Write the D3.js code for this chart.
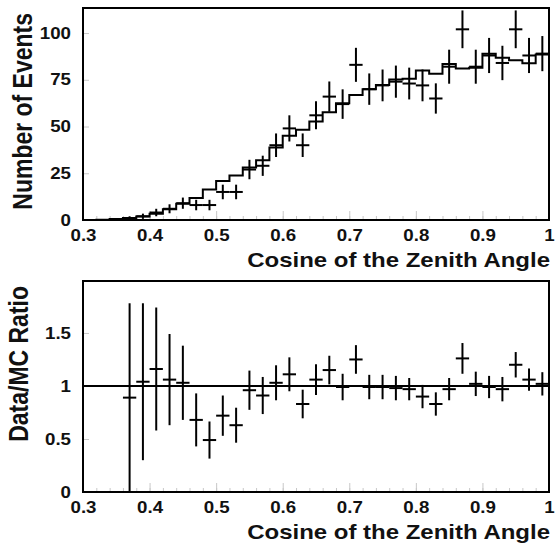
<!DOCTYPE html>
<html>
<head>
<meta charset="utf-8">
<script src="https://cdn.jsdelivr.net/npm/d3@7"></script>
<style>
  body { margin: 0; background: #fff; }
  text { font-family: "Liberation Sans", Arial, sans-serif; font-weight: bold; fill: #111; }
</style>
</head>
<body>
<div id="chart"></div>
<script>
const WIDTH = 558;
const HEIGHT = 546;
const LEFT = 83;
const RIGHT = 549;
const SX = 1.17; // the picture's text is a bit wider than it is tall

// MC histogram, bins of 0.02 from 0.30 to 1.00
const mcCenters = [0.31, 0.33, 0.35, 0.37, 0.39, 0.41, 0.43, 0.45, 0.47, 0.49,
                   0.51, 0.53, 0.55, 0.57, 0.59, 0.61, 0.63, 0.65, 0.67, 0.69,
                   0.71, 0.73, 0.75, 0.77, 0.79, 0.81, 0.83, 0.85, 0.87, 0.89,
                   0.91, 0.93, 0.95, 0.97, 0.99];
const mcCounts = [0.05, 0.2, 0.5, 1.1, 1.9, 3.4, 5.7, 8.7, 11.8, 16.3,
                  20.8, 23.8, 28.1, 31.9, 38.8, 45.0, 48.3, 52.7, 57.6, 62.5,
                  66.8, 70.0, 72.2, 75.2, 75.5, 80.0, 78.2, 83.5, 81.0, 81.5,
                  88.9, 86.8, 85.5, 83.8, 88.5];

// data points
const dataCenters = [0.37, 0.39, 0.41, 0.43, 0.45, 0.47, 0.49, 0.51, 0.53, 0.55,
                     0.57, 0.59, 0.61, 0.63, 0.65, 0.67, 0.69, 0.71, 0.73, 0.75,
                     0.77, 0.79, 0.81, 0.83, 0.85, 0.87, 0.89, 0.91, 0.93, 0.95,
                     0.97, 0.99];
const dataCounts = [1, 2, 4, 6, 9, 8, 8, 15, 15, 27,
                    29, 40, 49, 40, 56, 66, 62, 83, 70, 72,
                    74, 73, 72, 65, 82, 102, 82, 88, 84, 102,
                    88, 89];
const dataErr = [1, 1.4, 2, 2.4, 3, 2.8, 2.8, 3.9, 3.9, 5.2,
                 5.4, 6.3, 7, 6.3, 7.5, 8.1, 7.9, 9.1, 8.4, 8.5,
                 8.6, 8.5, 8.5, 8.1, 9.1, 10.1, 9.1, 9.4, 9.2, 10.1,
                 9.4, 9.4];

// Data/MC ratio
const ratio = [0.89, 1.04, 1.16, 1.06, 1.03, 0.68, 0.49, 0.72, 0.63, 0.96,
               0.91, 1.03, 1.11, 0.83, 1.06, 1.15, 0.99, 1.25, 0.99, 0.99,
               0.98, 0.97, 0.90, 0.83, 0.97, 1.26, 1.02, 0.99, 0.97, 1.20,
               1.06, 1.02];
const ratioErr = [0.89, 0.74, 0.58, 0.43, 0.35, 0.25, 0.175, 0.19, 0.165, 0.185,
                  0.175, 0.165, 0.16, 0.135, 0.145, 0.135, 0.125, 0.135, 0.115, 0.115,
                  0.115, 0.105, 0.11, 0.11, 0.105, 0.145, 0.115, 0.105, 0.115, 0.12,
                  0.105, 0.11];

const xTicks = [0.3, 0.4, 0.5, 0.6, 0.7, 0.8, 0.9, 1.0];
const xMinor = d3.range(0.30, 1.001, 0.02);
const yTicksTop = [0, 25, 50, 75, 100];
const yTicksRatio = [0, 0.5, 1, 1.5];
const xTitle = 'Cosine of the Zenith Angle';

document.addEventListener('DOMContentLoaded', function() {
  const svg = d3.select('#chart')
                .append('svg')
                .attr('width', WIDTH)
                .attr('height', HEIGHT);

  const xScale = d3.scaleLinear().domain([0.3, 1.0]).range([LEFT, RIGHT]);

  // upper panel: events
  const yTop = d3.scaleLinear().domain([0, 113.4]).range([220, 8]);
  const top = svg.append('g');
  drawFrame(top, xScale, yTop, yTicksTop, d3.format('d'), 'Number of Events', 32, 220, 8);

  const steps = mcCenters.map((c, i) => [c - 0.01, mcCounts[i]]);
  steps.push([1.0, mcCounts[mcCounts.length - 1]]);
  top.append('path')
     .datum(steps)
     .attr('fill', 'none')
     .attr('stroke', '#000')
     .attr('stroke-width', 2)
     .attr('d', d3.line().x(d => xScale(d[0])).y(d => yTop(d[1])).curve(d3.curveStepAfter));

  drawCrosses(top, xScale, yTop, dataCounts, dataErr, 0);

  // lower panel: ratio
  const yRatio = d3.scaleLinear().domain([0, 1.99]).range([492, 281]);
  const bot = svg.append('g');
  drawFrame(bot, xScale, yRatio, yTicksRatio, d => d === 0 || d === 1 ? String(d) : d3.format('.1f')(d),
            'Data/MC Ratio', 28, 492, 281);

  bot.append('line')
     .attr('x1', LEFT).attr('x2', RIGHT)
     .attr('y1', yRatio(1)).attr('y2', yRatio(1))
     .attr('stroke', '#000')
     .attr('stroke-width', 2);

  drawCrosses(bot, xScale, yRatio, ratio, ratioErr, 0);
});

function drawCrosses(g, x, y, vals, errs, floor) {
  const cross = g.selectAll('g.cross')
                 .data(dataCenters.map((c, i) => ({c: c, v: vals[i], e: errs[i]})))
                 .enter()
                 .append('g')
                 .attr('class', 'cross');
  cross.append('line')
       .attr('x1', d => x(d.c)).attr('x2', d => x(d.c))
       .attr('y1', d => y(Math.max(floor, d.v - d.e)))
       .attr('y2', d => y(d.v + d.e))
       .attr('stroke', '#000').attr('stroke-width', 2);
  cross.append('line')
       .attr('x1', d => x(d.c - 0.01)).attr('x2', d => x(d.c + 0.01))
       .attr('y1', d => y(d.v)).attr('y2', d => y(d.v))
       .attr('stroke', '#000').attr('stroke-width', 2);
}

function drawFrame(g, x, y, yTicks, yFmt, yTitle, titleX, bottom, topY) {
  // faint inner ticks
  g.append('g')
   .attr('transform', 'translate(0,' + bottom + ')')
   .call(d3.axisBottom(x).tickValues(xMinor).tickSize(-4).tickFormat(''))
   .call(a => a.select('.domain').remove())
   .call(a => a.selectAll('line').attr('stroke', '#c8c8c8'));
  g.append('g')
   .attr('transform', 'translate(0,' + bottom + ')')
   .call(d3.axisBottom(x).tickValues(xTicks).tickSize(-9).tickPadding(10)
           .tickFormat(d => d === 1 ? '1' : d3.format('.1f')(d)))
   .call(a => a.select('.domain').remove())
   .call(a => a.selectAll('line').attr('stroke', '#c8c8c8'))
   .call(a => a.selectAll('text')
               .attr('font-size', 16)
               .attr('font-family', null)
               .attr('fill', '#111')
               .attr('transform', 'scale(' + SX + ',1)'));

  g.append('g')
   .attr('transform', 'translate(' + LEFT + ',0)')
   .call(d3.axisLeft(y).tickValues(yTicks).tickSize(-6).tickFormat(yFmt))
   .call(a => a.select('.domain').remove())
   .call(a => a.selectAll('line').attr('stroke', '#c8c8c8'))
   .call(a => a.selectAll('text')
               .attr('x', -12 / SX)
               .attr('font-size', 16)
               .attr('font-family', null)
               .attr('fill', '#111')
               .attr('transform', 'scale(' + SX + ',1)'));

  g.append('rect')
   .attr('x', LEFT).attr('y', topY)
   .attr('width', RIGHT - LEFT).attr('height', bottom - topY)
   .attr('fill', 'none')
   .attr('stroke', '#000')
   .attr('stroke-width', 2);

  g.append('text')
   .attr('transform', 'translate(' + (RIGHT + 1) + ',' + (bottom + 47) + ') scale(' + SX + ',1)')
   .attr('text-anchor', 'end')
   .attr('font-size', 20.5)
   .text(xTitle);

  g.append('text')
   .attr('transform', 'translate(' + titleX + ',' + (topY + 5) + ') scale(' + SX + ',1) rotate(-90)')
   .attr('text-anchor', 'end')
   .attr('font-size', 23)
   .text(yTitle);
}
</script>
</body>
</html>
